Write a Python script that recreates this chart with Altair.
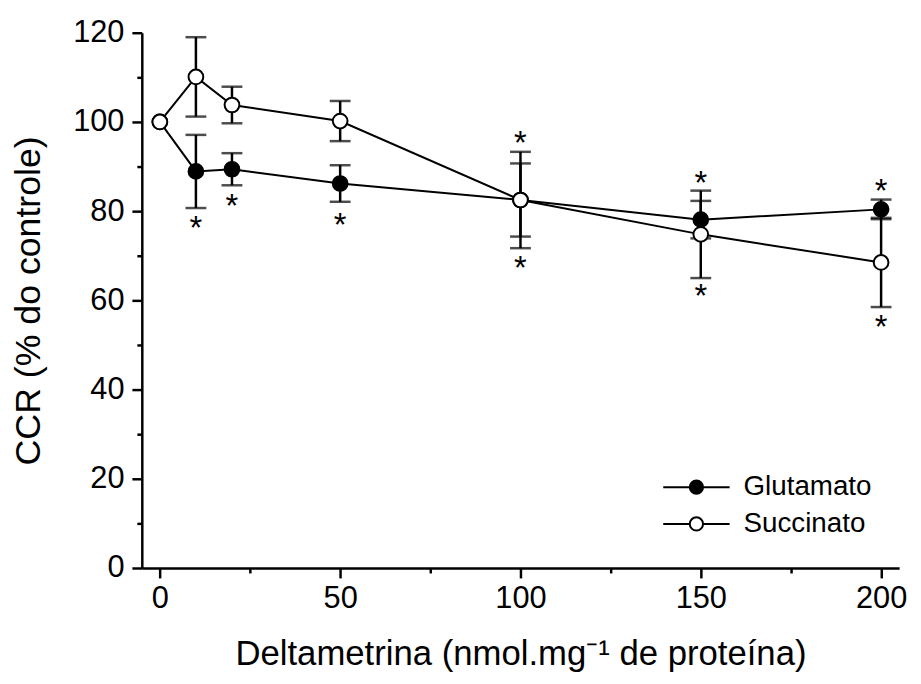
import altair as alt
import pandas as pd

# ---- data ----
doses = [0, 10, 20, 50, 100, 150, 200]
glut_mean = [100, 88.9, 89.4, 86.2, 82.5, 78.1, 80.4]
glut_err = [0, 8.2, 3.6, 4.1, 8.2, 4.2, 2.2]
succ_mean = [100, 110.1, 103.8, 100.2, 82.5, 74.8, 68.5]
succ_err = [0, 8.9, 4.1, 4.5, 10.8, 9.8, 10.0]
series_names = ["Glutamato", "Succinato"]

# significance marks (*) : dose and vertical position
star_dose = [10, 20, 50, 100, 100, 150, 150, 200, 200]
star_pos = [77.8, 82.6, 78.5, 96.9, 68.9, 87.8, 62.6, 86.1, 55.6]

x_ticks = [0, 25, 50, 75, 100, 125, 150, 175, 200]
y_ticks = [0, 10, 20, 30, 40, 50, 60, 70, 80, 90, 100, 110, 120]

rows = []
for name, means, errs in [("Glutamato", glut_mean, glut_err), ("Succinato", succ_mean, succ_err)]:
    for d, m, e in zip(doses, means, errs):
        rows.append({"dose": d, "ccr": m, "lo": m - e, "hi": m + e, "err": e, "serie": name})
df = pd.DataFrame(rows)
stars = pd.DataFrame({"dose": star_dose, "pos": star_pos})

FONT = "Liberation Sans"
xscale = alt.Scale(domain=[-5, 205], nice=False, zero=False)
yscale = alt.Scale(domain=[0, 120], nice=False, zero=False)

xaxis = alt.Axis(
    values=x_ticks,
    labelExpr="datum.value % 50 === 0 ? datum.label : ''",
    tickSize={"condition": {"test": "datum.value % 50 === 0", "value": 10}, "value": 5},
    labelOverlap=False,
    grid=False,
    domainColor="black", domainWidth=2.5,
    tickColor="black", tickWidth=2.5,
    labelFont=FONT, labelFontSize=31, labelColor="black", labelPadding=6,
    titleFont=FONT, titleFontSize=35, titleColor="black", titleFontWeight="normal",
    titlePadding=23,
)
yaxis = alt.Axis(
    values=y_ticks,
    labelExpr="datum.value % 20 === 0 ? datum.label : ''",
    tickSize={"condition": {"test": "datum.value % 20 === 0", "value": 10}, "value": 5},
    labelOverlap=False,
    grid=False,
    domainColor="black", domainWidth=2.5,
    tickColor="black", tickWidth=2.5,
    labelFont=FONT, labelFontSize=31, labelColor="black", labelPadding=8,
    titleFont=FONT, titleFontSize=36, titleColor="black", titleFontWeight="normal",
    titlePadding=25,
)

X = alt.X("dose:Q", scale=xscale, axis=xaxis, title="Deltametrina (nmol.mg⁻¹ de proteína)")
Y = alt.Y("ccr:Q", scale=yscale, axis=yaxis, title="CCR (% do controle)")

base = alt.Chart(df)

lines = base.mark_line(color="black", strokeWidth=2).encode(x=X, y=Y, detail="serie:N")

bars_src = base.transform_filter("datum.err > 0")
bars = bars_src.mark_rule(color="black", strokeWidth=2.5).encode(
    x="dose:Q", y="lo:Q", y2="hi:Q")
cap_hi = bars_src.mark_tick(orient="horizontal", size=21, thickness=2.5, color="black").encode(
    x="dose:Q", y="hi:Q")
cap_lo = bars_src.mark_tick(orient="horizontal", size=21, thickness=2.5, color="black").encode(
    x="dose:Q", y="lo:Q")

SYMBOL = "M-1,0H-0.2M0.2,0H1M0.2,0A0.2,0.2,0,1,1,-0.2,0A0.2,0.2,0,1,1,0.2,0Z"

points = base.mark_point(filled=True, size=220, stroke="black", strokeWidth=2, opacity=1).encode(
    x="dose:Q", y="ccr:Q",
    fill=alt.Fill("serie:N", scale=alt.Scale(domain=series_names, range=["black", "white"]),
                  legend=alt.Legend(
                      title=None, orient="none", legendX=525, legendY=440,
                      symbolType=SYMBOL, symbolSize=4489,
                      symbolStrokeColor="black", symbolStrokeWidth=2,
                      labelFont=FONT, labelFontSize=28, labelColor="black",
                      labelOffset=13, clipHeight=37, rowPadding=0)),
)

star_text = alt.Chart(stars).mark_text(
    text="*", font=FONT, fontSize=33, baseline="alphabetic", dy=18, color="black"
).encode(x="dose:Q", y="pos:Q")

chart = alt.layer(lines, bars, cap_hi, cap_lo, points, star_text).properties(
    width=764, height=540,
    autosize=alt.AutoSizeParams(type="none"),
    padding={"left": 135, "top": 22, "right": 14, "bottom": 106},
).configure_view(stroke=None)

chart.save("out.html", embed_options={"renderer": "svg", "actions": False})
